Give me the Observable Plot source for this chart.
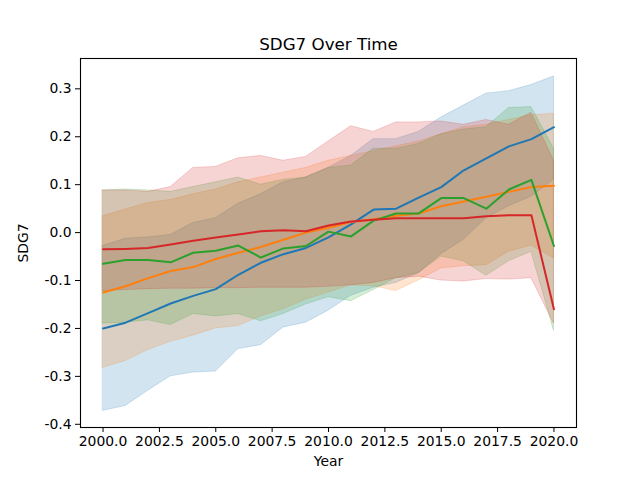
<!DOCTYPE html>
<html><head><meta charset="utf-8">
<script src="https://cdn.jsdelivr.net/npm/d3@7"></script>
<script src="https://cdn.jsdelivr.net/npm/@observablehq/plot@0.6"></script>
<style>body{margin:0;background:#fff;} #chart svg{display:block;}</style>
</head><body><div id="chart"></div>
<script>
const years = [2000,2001,2002,2003,2004,2005,2006,2007,2008,2009,2010,2011,2012,2013,2014,2015,2016,2017,2018,2019,2020];

const blueMean = [-0.200,-0.188,-0.168,-0.148,-0.132,-0.118,-0.088,-0.063,-0.045,-0.032,-0.010,0.017,0.048,0.050,0.073,0.095,0.130,0.155,0.180,0.195,0.220];
const blueLo   = [-0.372,-0.362,-0.330,-0.300,-0.292,-0.290,-0.243,-0.235,-0.198,-0.188,-0.163,-0.132,-0.115,-0.105,-0.085,-0.045,-0.015,0.030,0.055,0.075,0.110];
const blueHi   = [-0.028,-0.013,-0.010,-0.005,0.020,0.030,0.060,0.080,0.105,0.115,0.135,0.160,0.195,0.195,0.210,0.240,0.265,0.290,0.295,0.308,0.326];

const orangeMean = [-0.125,-0.112,-0.095,-0.080,-0.072,-0.055,-0.042,-0.030,-0.015,0.000,0.010,0.022,0.028,0.035,0.040,0.055,0.065,0.075,0.085,0.095,0.098];
const orangeLo   = [-0.282,-0.268,-0.245,-0.228,-0.215,-0.200,-0.195,-0.175,-0.160,-0.140,-0.125,-0.110,-0.112,-0.122,-0.100,-0.075,-0.070,-0.068,-0.040,-0.027,-0.054];
const orangeHi   = [0.034,0.048,0.062,0.068,0.080,0.090,0.105,0.115,0.125,0.135,0.150,0.160,0.170,0.180,0.190,0.205,0.220,0.225,0.235,0.245,0.248];

const greenMean = [-0.065,-0.057,-0.057,-0.062,-0.042,-0.038,-0.027,-0.052,-0.033,-0.028,0.002,-0.008,0.025,0.040,0.040,0.072,0.072,0.050,0.090,0.110,-0.028];
const greenLo   = [-0.190,-0.188,-0.183,-0.193,-0.170,-0.175,-0.170,-0.185,-0.170,-0.150,-0.135,-0.143,-0.120,-0.095,-0.085,-0.050,-0.060,-0.090,-0.060,-0.040,-0.205];
const greenHi   = [0.088,0.090,0.088,0.085,0.095,0.105,0.115,0.100,0.110,0.115,0.135,0.140,0.175,0.175,0.185,0.205,0.215,0.220,0.260,0.262,0.175];

const redMean = [-0.035,-0.034,-0.032,-0.025,-0.017,-0.010,-0.004,0.003,0.005,0.003,0.015,0.023,0.027,0.030,0.030,0.030,0.030,0.034,0.036,0.036,-0.160];
const redLo   = [-0.122,-0.120,-0.118,-0.117,-0.117,-0.116,-0.116,-0.115,-0.115,-0.115,-0.113,-0.110,-0.105,-0.095,-0.092,-0.100,-0.102,-0.097,-0.098,-0.095,-0.190];
const redHi   = [0.088,0.088,0.085,0.095,0.135,0.137,0.155,0.160,0.150,0.158,0.190,0.222,0.210,0.230,0.230,0.232,0.225,0.235,0.225,0.250,0.150];

const xTicks = [2000,2002.5,2005,2007.5,2010,2012.5,2015,2017.5,2020];
const yTicks = [-0.4,-0.3,-0.2,-0.1,0.0,0.1,0.2,0.3];

const seriesDefs = [
  {mean: blueMean, lo: blueLo, hi: blueHi, color: "#1f77b4"},
  {mean: orangeMean, lo: orangeLo, hi: orangeHi, color: "#ff7f0e"},
  {mean: greenMean, lo: greenLo, hi: greenHi, color: "#2ca02c"},
  {mean: redMean, lo: redLo, hi: redHi, color: "#d62728"}
];

const bandMarks = [];
const lineMarks = [];
for (const s of seriesDefs) {
  const rows = years.map((yr, i) => ({year: yr, mean: s.mean[i], lo: s.lo[i], hi: s.hi[i]}));
  bandMarks.push(Plot.areaY(rows, {x: "year", y1: "lo", y2: "hi", fill: s.color, fillOpacity: 0.2, stroke: s.color, strokeOpacity: 0.2, strokeWidth: 1}));
  lineMarks.push(Plot.lineY(rows, {x: "year", y: "mean", stroke: s.color, strokeWidth: 2}));
}
const marks = [...bandMarks, ...lineMarks];
marks.push(Plot.frame({stroke: "black", strokeWidth: 1.1}));
marks.push(Plot.axisX({ticks: xTicks, tickFormat: d => d.toFixed(1), tickSize: 5, tickPadding: 4, label: "Year", labelAnchor: "center", labelArrow: "none", labelOffset: 38}));
marks.push(Plot.axisY({ticks: yTicks, tickFormat: d => d.toFixed(1), tickSize: 5, tickPadding: 4, label: "SDG7", labelAnchor: "center", labelArrow: "none", labelOffset: 62}));
marks.push(Plot.text(["SDG7 Over Time"], {frameAnchor: "top", dy: -20, fontSize: 16.7, fill: "black"}));

const chart = Plot.plot({
  width: 640, height: 480,
  marginLeft: 80, marginRight: 64, marginTop: 58, marginBottom: 53,
  style: {fontFamily: "DejaVu Sans", fontSize: "13.9px", background: "white", color: "black"},
  x: {domain: [1999, 2021]},
  y: {domain: [-0.4067, 0.3633]},
  marks
});
document.getElementById("chart").appendChild(chart);
</script>
</body></html>
